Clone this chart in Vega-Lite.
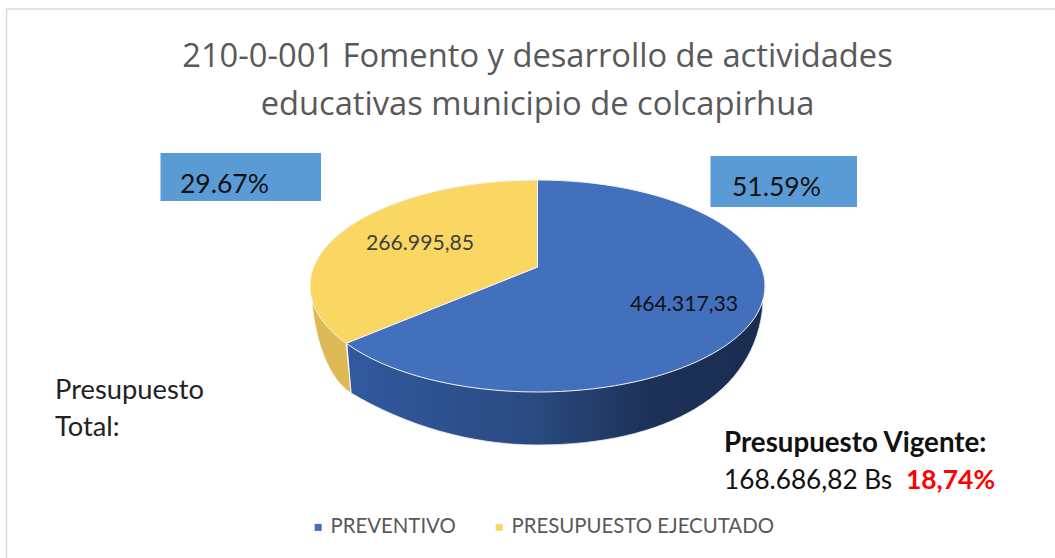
{
"$schema":"https://vega.github.io/schema/vega-lite/v6.json",
"width":1055,"height":558,"autosize":"none","padding":0,"background":"white",
"title":{"text":["210-0-001 Fomento y desarrollo de actividades","educativas municipio de colcapirhua"],"anchor":"middle","dx":10,"dy":126,"fontSize":32.7,"lineHeight":48,"font":"Open Sans","fontWeight":"normal","color":"#595959"},
"config":{"view":{"stroke":null}},
"data":{"values":[
{"category":"PREVENTIVO","value":464317.33,"label":"464.317,33","share":"51.59%"},
{"category":"PRESUPUESTO EJECUTADO","value":266995.85,"label":"266.995,85","share":"29.67%"}
]},
"layer":[
{"data":{"values":[{"frame":"chart area"}]},"mark":{"type":"rect","fill":"white","stroke":"#d9d9d9","strokeWidth":1.5},
 "encoding":{"x":{"datum":6.5,"scale":{"domain":[0,1055],"nice":false,"zero":false},"axis":null},"x2":{"datum":1080},"y":{"datum":9,"scale":{"domain":[558,0],"nice":false,"zero":false},"axis":null},"y2":{"datum":580}}},
{"transform":[{"filter":"datum.category==='PRESUPUESTO EJECUTADO'"}],"mark":{"type":"rect","fill":"#5B9BD5"},
 "encoding":{"x":{"datum":160.5},"x2":{"datum":321},"y":{"datum":153},"y2":{"datum":201}}},
{"transform":[{"filter":"datum.category==='PREVENTIVO'"}],"mark":{"type":"rect","fill":"#5B9BD5"},
 "encoding":{"x":{"datum":710.5},"x2":{"datum":857},"y":{"datum":156},"y2":{"datum":207}}},
{"transform":[{"filter":"datum.category==='PREVENTIVO'"}],
 "mark":{"type":"point","filled":true,"opacity":1,"stroke":"#e8eef8","strokeWidth":0.8,
 "shape":"M225.5,17C219.5,109 127.5,159 0,159C-67.5,159 -132.5,139 -186.5,107L-190.5,57L0,0Z",
 "fill":{"gradient":"linear","x1":0,"x2":1,"y1":0,"y2":0,"stops":[{"offset":0,"color":"#32599f"},{"offset":0.45,"color":"#2a4a80"},{"offset":0.72,"color":"#1d3258"},{"offset":1,"color":"#1a2c50"}]}},
 "encoding":{"x":{"datum":537.5},"y":{"datum":286},"size":{"value":4}}},
{"transform":[{"filter":"datum.category==='PRESUPUESTO EJECUTADO'"}],
 "mark":{"type":"point","filled":true,"opacity":1,"stroke":"#ffffff","strokeWidth":0.8,
 "shape":"M-191.4,57.3L-186.5,107C-207.5,94 -221.5,59 -225.5,17L-100,0Z",
 "fill":{"gradient":"linear","x1":0,"x2":1,"y1":0,"y2":0,"stops":[{"offset":0,"color":"#dcb958"},{"offset":1,"color":"#e3bc52"}]}},
 "encoding":{"x":{"datum":537.5},"y":{"datum":286},"size":{"value":4}}},
{"mark":{"type":"point","filled":true,"opacity":1,"stroke":"#f4f4f4","strokeWidth":1},
 "encoding":{"x":{"datum":537.5},"y":{"datum":286},"size":{"value":4},
  "shape":{"field":"label","type":"nominal","legend":null,"scale":{"domain":["464.317,33","266.995,85"],"range":[
   "M0,-19L0,-106C125.6,-106 227.5,-58.5 227.5,0C227.5,58.5 125.6,106 0,106C-77.4,106 -149.6,87.7 -191.4,57.3Z",
   "M0,-19L-191.4,57.3C-214.9,40.2 -227.5,20.3 -227.5,0C-227.5,-58.5 -125.6,-106 0,-106Z"]}},
  "color":{"field":"category","type":"nominal","scale":{"domain":["PREVENTIVO","PRESUPUESTO EJECUTADO"],"range":["#4270BD","#FAD663"]},
   "legend":{"title":null,"orient":"none","legendX":308,"legendY":517,"direction":"horizontal","columns":2,"columnPadding":33,"symbolType":"square","symbolSize":49,"symbolStrokeWidth":0,"labelFont":"Lato","labelFontSize":20.4,"labelColor":"#595959","labelLimit":400,"labelOffset":2}}}},
{"transform":[{"filter":"datum.category==='PRESUPUESTO EJECUTADO'"}],"mark":{"type":"text","align":"left","baseline":"alphabetic","font":"Lato","fontSize":21.2,"fill":"#404040"},
 "encoding":{"x":{"datum":366},"y":{"datum":250},"text":{"field":"label"}}},
{"transform":[{"filter":"datum.category==='PREVENTIVO'"}],"mark":{"type":"text","align":"left","baseline":"alphabetic","font":"Lato","fontSize":21.2,"fill":"#111111"},
 "encoding":{"x":{"datum":630},"y":{"datum":311},"text":{"field":"label"}}},
{"transform":[{"filter":"datum.category==='PRESUPUESTO EJECUTADO'"}],"mark":{"type":"text","align":"left","baseline":"alphabetic","font":"Lato","fontSize":26.5,"fill":"#111111"},
 "encoding":{"x":{"datum":180},"y":{"datum":193},"text":{"field":"share"}}},
{"transform":[{"filter":"datum.category==='PREVENTIVO'"}],"mark":{"type":"text","align":"left","baseline":"alphabetic","font":"Lato","fontSize":26.5,"fill":"#111111"},
 "encoding":{"x":{"datum":732},"y":{"datum":196},"text":{"field":"share"}}},
{"data":{"values":[{"note":"Presupuesto"}]},"mark":{"type":"text","align":"left","baseline":"alphabetic","font":"Lato","fontSize":27.3,"fill":"#222222"},
 "encoding":{"x":{"datum":55},"y":{"datum":399},"text":{"field":"note"}}},
{"data":{"values":[{"note":"Total:"}]},"mark":{"type":"text","align":"left","baseline":"alphabetic","font":"Lato","fontSize":27.3,"fill":"#222222"},
 "encoding":{"x":{"datum":55},"y":{"datum":436},"text":{"field":"note"}}},
{"data":{"values":[{"note":"Presupuesto Vigente:"}]},"mark":{"type":"text","align":"left","baseline":"alphabetic","font":"Lato","fontWeight":"bold","fontSize":27.7,"fill":"#111111"},
 "encoding":{"x":{"datum":724},"y":{"datum":452},"text":{"field":"note"}}},
{"data":{"values":[{"note":"168.686,82 Bs"}]},"mark":{"type":"text","align":"left","baseline":"alphabetic","font":"Lato","fontSize":26.2,"fill":"#111111"},
 "encoding":{"x":{"datum":724},"y":{"datum":489},"text":{"field":"note"}}},
{"data":{"values":[{"note":"18,74%"}]},"mark":{"type":"text","align":"left","baseline":"alphabetic","font":"Lato","fontWeight":"bold","fontSize":26.4,"fill":"#ff0000"},
 "encoding":{"x":{"datum":906},"y":{"datum":489},"text":{"field":"note"}}}
]
}
